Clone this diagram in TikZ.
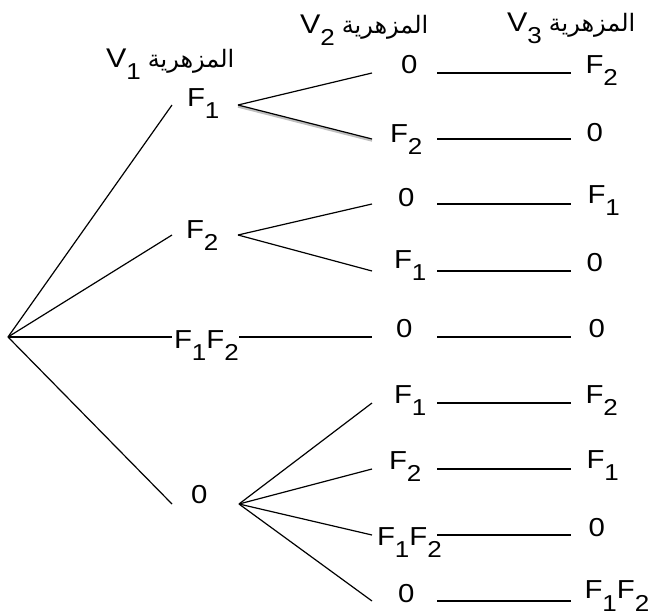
\documentclass[tikz,border=0pt]{standalone}
\usepackage{fontspec}
\setmainfont{Liberation Sans}[FakeStretch=1.13]
\newfontfamily\arabicfont[Script=Arabic]{DejaVu Sans}
\TeXXeTstate=1
\newcommand{\lsub}[1]{\raisebox{-12.5pt}{\fontsize{23}{23}\selectfont #1}}
\newcommand{\slottext}[4]{\makebox[#1][l]{\hspace*{#2}\raisebox{#3}{#4}}}
\newcommand{\vase}{{\arabicfont\fontsize{24}{28}\selectfont\beginR المزهرية\endR}}
\begin{document}
\begin{tikzpicture}[x=1pt,y=-1pt,
  font=\fontsize{26}{30}\selectfont,
  slot/.style={inner sep=0pt, outer sep=0pt, anchor=base west},
  branch/.style={line width=1.2pt, black},
  header/.style={inner sep=0pt, outer sep=0pt, anchor=base west, font=\fontsize{27}{30}\selectfont}]
\useasboundingbox (0,0) rectangle (651,616);
% headers
\node[header] (h1) at (106,67) {V\lsub{1}\hspace{7pt}\vase};
\node[header] (h2) at (300,33) {V\lsub{2}\hspace{7pt}\vase};
\node[header] (h3) at (507,31) {V\lsub{3}\hspace{7pt}\vase};
% root
\coordinate (root) at (8,337);
% level 1
\node[slot] (a1) at (172,105) {\slottext{66pt}{15pt}{-1pt}{F\lsub{1}}};
\node[slot] (a2) at (172,235) {\slottext{66pt}{14pt}{-3pt}{F\lsub{2}}};
\node[slot] (a3) at (172,337) {\slottext{67pt}{2pt}{-11pt}{F\lsub{1}F\lsub{2}}};
\node[slot] (a4) at (172,504) {\slottext{67pt}{19pt}{1pt}{0}};
% level 2
\node[slot] (b1) at (372,73)  {\slottext{65pt}{29pt}{0pt}{0}};
\node[slot] (b2) at (372,139) {\slottext{65pt}{18pt}{-3pt}{F\lsub{2}}};
\node[slot] (b3) at (372,204) {\slottext{65pt}{26pt}{-2pt}{0}};
\node[slot] (b4) at (372,271) {\slottext{65pt}{22pt}{3pt}{F\lsub{1}}};
\node[slot] (b5) at (372,337) {\slottext{65pt}{24pt}{0pt}{0}};
\node[slot] (b6) at (372,403) {\slottext{65pt}{22pt}{0pt}{F\lsub{1}}};
\node[slot] (b7) at (372,469) {\slottext{65pt}{17pt}{0pt}{F\lsub{2}}};
\node[slot] (b8) at (372,535) {\slottext{65pt}{5pt}{-10pt}{F\lsub{1}F\lsub{2}}};
\node[slot] (b9) at (372,601) {\slottext{65pt}{26pt}{-1pt}{0}};
% level 3
\node[slot] (c1) at (571,73)  {\slottext{0pt}{14pt}{0pt}{F\lsub{2}}};
\node[slot] (c2) at (571,139) {\slottext{0pt}{15pt}{-2pt}{0}};
\node[slot] (c3) at (571,204) {\slottext{0pt}{16pt}{1pt}{F\lsub{1}}};
\node[slot] (c4) at (571,271) {\slottext{0pt}{15pt}{0pt}{0}};
\node[slot] (c5) at (571,337) {\slottext{0pt}{17pt}{0pt}{0}};
\node[slot] (c6) at (571,403) {\slottext{0pt}{14pt}{0pt}{F\lsub{2}}};
\node[slot] (c7) at (571,469) {\slottext{0pt}{15pt}{1pt}{F\lsub{1}}};
\node[slot] (c8) at (571,535) {\slottext{0pt}{17pt}{-1pt}{0}};
\node[slot] (c9) at (571,601) {\slottext{0pt}{13pt}{2.5pt}{F\lsub{1}F\lsub{2}}};
% connectors root -> level 1
\foreach \n in {a1,a2,a3,a4} \draw[branch] (root) -- (\n.base west);
% shadow of one branch
\draw[gray!50, line width=2.4pt] ([yshift=-1.5pt]a1.base east) -- ([yshift=-1.5pt]b2.base west);
% level 1 -> level 2
\draw[branch] (a1.base east) -- (b1.base west);
\draw[branch] (a1.base east) -- (b2.base west);
\draw[branch] (a2.base east) -- (b3.base west);
\draw[branch] (a2.base east) -- (b4.base west);
\draw[branch] (a3.base east) -- (b5.base west);
\foreach \n in {b6,b7,b8,b9} \draw[branch] (a4.base east) -- (\n.base west);
% level 2 -> level 3
\foreach \i in {1,...,9} \draw[branch] (b\i.base east) -- (c\i.base west);
\end{tikzpicture}
\end{document}
